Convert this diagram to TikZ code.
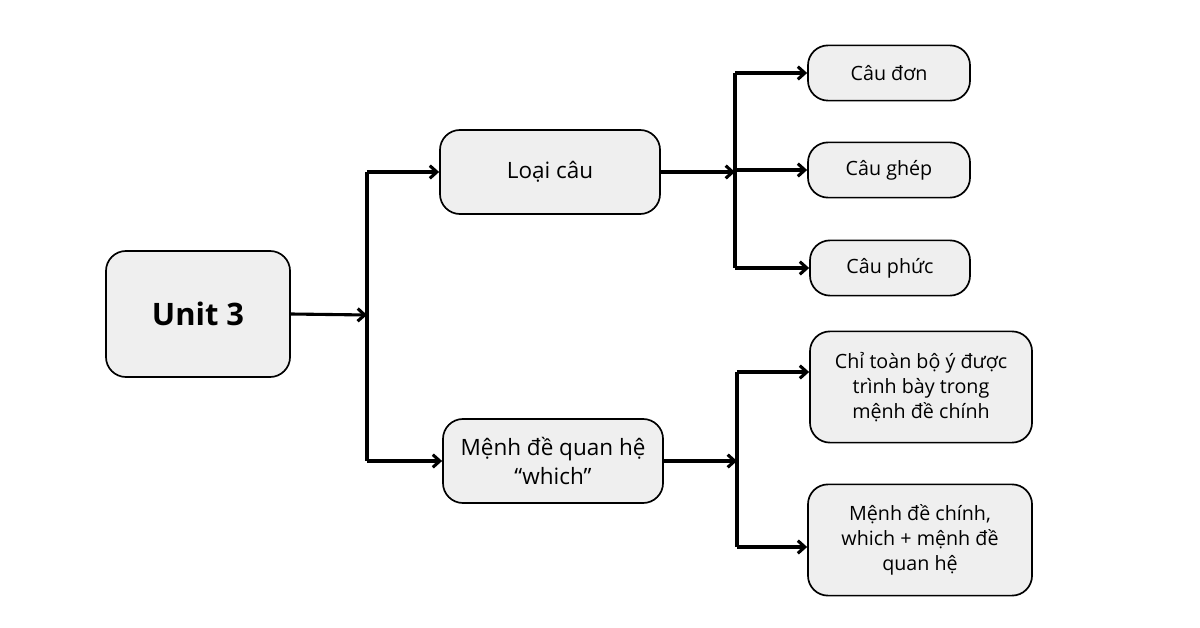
\documentclass[tikz,border=0pt]{standalone}
\usepackage{fontspec}
\setmainfont{Open Sans}
\usetikzlibrary{arrows.meta}
\definecolor{boxfill}{HTML}{EFEFEF}
\tikzset{
 box/.style={draw, line width=1.2pt, fill=boxfill, rounded corners=0.5cm, align=center, inner sep=2pt, font=\fontsize{14}{18}\selectfont},
 link/.style={line width=2.2pt, -{Straight Barb[length=5pt,width=9pt]}},
 bar/.style={line width=2.2pt}
}
\begin{document}
\begin{tikzpicture}[x=0.025cm,y=-0.025cm]
\useasboundingbox (0,0) rectangle (1200,628);

% main topic
\node[box, minimum width=4.6cm, minimum height=3.15cm, font=\fontsize{22}{26}\selectfont\bfseries] (unit) at (198,314) {Unit 3};

% branches
\node[box, minimum width=5.5cm, minimum height=2.1cm, font=\fontsize{16}{20}\selectfont] (loai) at (550,172) {Loại câu};
\node[box, minimum width=5.5cm, minimum height=2.1cm, font=\fontsize{16}{20}\selectfont] (menh) at (553,461) {Mệnh đề quan hệ\\“which”};

% leaves
\node[box, minimum width=4.05cm, minimum height=1.38cm] (don) at (889,73) {Câu đơn};
\node[box, minimum width=4.05cm, minimum height=1.38cm] (ghep) at (889,170) {Câu ghép};
\node[box, minimum width=4.0cm, minimum height=1.38cm] (phuc) at (890,268) {Câu phức};
\node[box, minimum width=5.55cm, minimum height=2.78cm] (chi) at (921,387) {Chỉ toàn bộ ý được\\trình bày trong\\mệnh đề chính};
\node[box, minimum width=5.6cm, minimum height=2.78cm] (chinh) at (920,540) {Mệnh đề chính,\\which + mệnh đề\\quan hệ};

% junctions
\coordinate (j1) at (367,315);
\coordinate (j2) at (735,172);
\coordinate (j3) at (737,461);

\draw[link] (unit.east) -- (j1);
\draw[bar] (j1 |- loai) -- (j1 |- menh);
\draw[link] (j1 |- loai) -- (loai.west);
\draw[link] (j1 |- menh) -- (menh.west);

\draw[link] (loai.east) -- (j2);
\draw[bar] (j2 |- don) -- (j2 |- phuc);
\draw[link] (j2 |- don) -- (don.west);
\draw[link] (j2 |- ghep) -- (ghep.west);
\draw[link] (j2 |- phuc) -- (phuc.west);

\draw[link] (menh.east) -- (j3);
\draw[bar] (737,372) -- (737,547);
\draw[link] (737,372) -- (chi.west |- 0,372);
\draw[link] (737,547) -- (chinh.west |- 0,547);
\end{tikzpicture}
\end{document}
